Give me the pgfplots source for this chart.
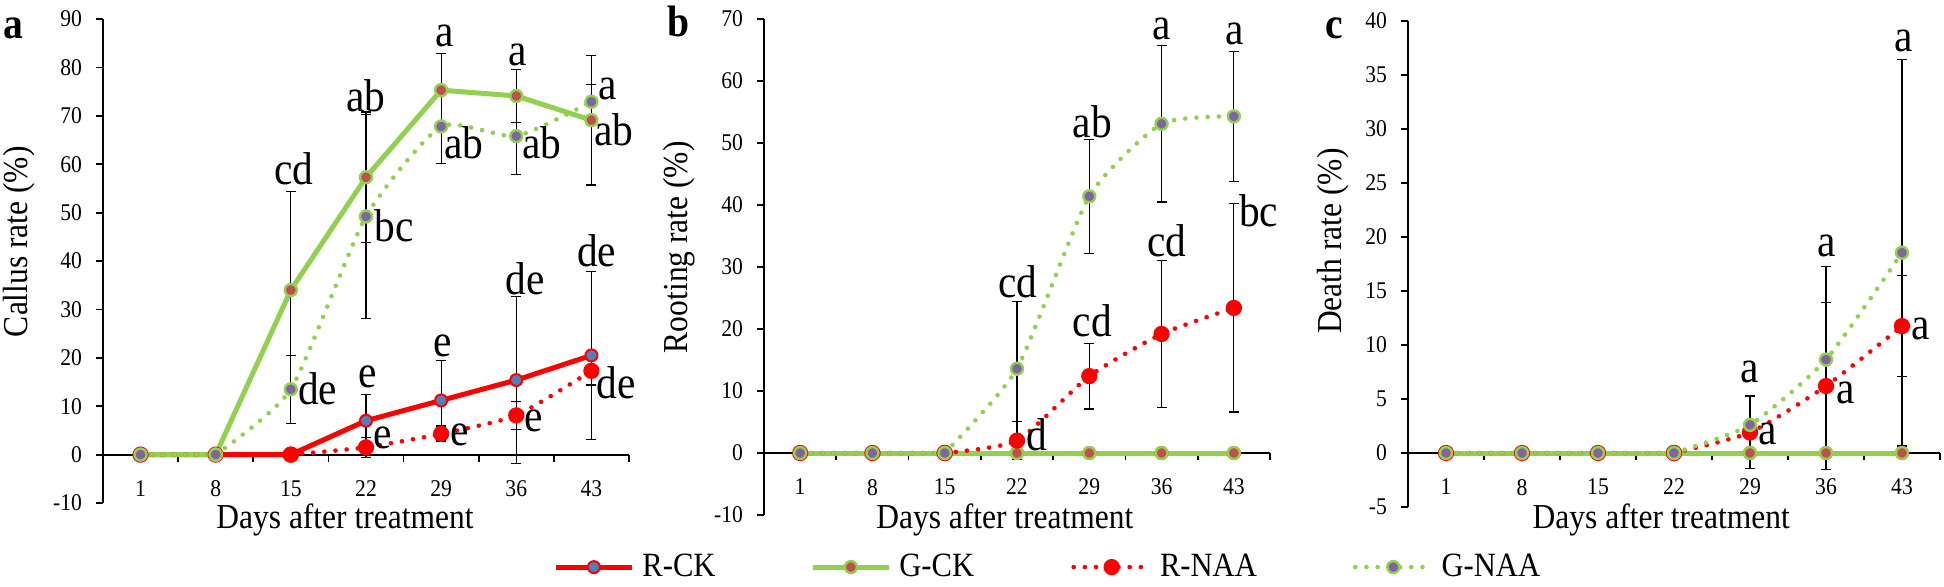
\documentclass[border=0pt]{standalone}
\usepackage{fontspec}
\setmainfont{Liberation Serif}[FakeStretch=0.9]
\usepackage{pgfplots}
\pgfplotsset{compat=1.18}
\definecolor{cgreen}{RGB}{146,208,80}
\definecolor{cblue}{RGB}{79,129,189}
\definecolor{cbrown}{RGB}{192,80,77}
\definecolor{cpurple}{RGB}{128,100,162}
\pgfplotsset{
 panel/.style={scale only axis, anchor=north west, xmin=-2.5, xmax=46.5,
   axis x line=middle, axis y line=left,
   axis line style={-, line width=0.9pt},
   every inner x axis line/.append style={-},
   every outer y axis line/.append style={-},
   xtick={4.5,11.5,...,46.5}, xticklabels={},
   extra x ticks={1,8,15,22,29,36,43}, extra x tick labels={1,8,15,22,29,36,43},
   extra x tick style={major tick length=0pt},
   tick align=outside, major tick length=3.5pt, tick style={black, line width=0.9pt},
   xticklabel style={yshift=-9.5pt}, yticklabel style={xshift=-3.5pt},
   tick label style={font=\fontsize{12}{14}\selectfont},
   label style={font=\fontsize{17.5}{20}\selectfont},
   hide obscured x ticks=false, hide obscured y ticks=false,
   clip=false,
   legend image code/.code={\draw[mark repeat=2,mark phase=2] plot coordinates {(0pt,0pt) (19pt,0pt) (38pt,0pt)};},
 },
 rck/.style={color=red, line width=2.5pt, mark=*, mark size=3pt, mark options={solid, fill=cblue, draw=red, line width=1pt}},
 gck/.style={color=cgreen, line width=2.5pt, mark=*, mark size=3pt, mark options={solid, fill=cbrown, draw=cgreen, line width=1.2pt}},
 rnaa/.style={color=red, line width=2.3pt, line cap=round, dash pattern=on 0pt off 5.6pt, smooth, tension=0.35, mark=*, mark size=2.9pt, mark options={solid, fill=red, draw=red}},
 gnaa/.style={color=cgreen, line width=2.3pt, line cap=round, dash pattern=on 0pt off 5.6pt, smooth, tension=0.35, mark=*, mark size=3pt, mark options={solid, fill=cpurple, draw=cgreen, line width=1.2pt}},
 flat/.style={forget plot, sharp plot},
 ebar/.style={forget plot, only marks, mark=none, black, error bars/.cd, y dir=both, y explicit, error mark=-, error bar style={black, solid, line width=0.6pt}, error mark options={rotate=90, black, solid, mark size=2.5pt, line width=0.6pt}},
}
\tikzset{lab/.style={font=\fontsize{23}{26}\selectfont, inner sep=0pt, anchor=center}}
\begin{document}
\begin{tikzpicture}
\path[use as bounding box] (0,0) rectangle (972pt,-293pt);
% ---------------- panel a
\begin{axis}[panel, at={(51.5pt,-9.5pt)}, width=263pt, height=242pt,
  ymin=-10, ymax=90, ytick={-10,0,10,20,30,40,50,60,70,80,90},
  yticklabels={-10,0,10,20,30,40,50,60,70,80,90},
  xlabel={Days after treatment}, ylabel={Callus rate (\%)},
  xlabel style={at={(axis description cs:0.46,0)}, anchor=base, yshift=-12.5pt},
  ylabel style={at={(axis description cs:-0.16,0.54)}, anchor=center}]
\addplot[ebar] table[x=x,y=y,y error=e] {
x y e
22 7.0 5.4
29 11.2 8.3
36 15.4 17.3
43 20.5 17.4
};
\addplot[ebar] table[x=x,y=y,y error=e] {
x y e
15 34.0 20.4
22 57.3 13.5
29 75.3 7.5
36 74.1 5.5
43 69.1 13.4
};
\addplot[ebar] table[x=x,y=y,y error=e] {
x y e
22 1.5 2.1
29 4.3 1.6
36 8.1 2.9
43 17.3 2.9
};
\addplot[ebar] table[x=x,y=y,y error=e] {
x y e
15 13.5 7.0
22 49.2 21.0
29 67.8 7.7
36 65.8 8.0
43 72.9 3.6
};
\addplot[rck] coordinates {(1,0) (8,0) (15,0) (22,7.0) (29,11.2) (36,15.4) (43,20.5)};
\addplot[gck] coordinates {(1,0) (8,0) (15,34.0) (22,57.3) (29,75.3) (36,74.1) (43,69.1)};
\addplot[rnaa, flat] coordinates {(1,0) (8,0) (15,0)};
\addplot[rnaa] coordinates {(15,0) (22,1.5) (29,4.3) (36,8.1) (43,17.3)};
\addplot[gnaa, flat] coordinates {(1,0) (8,0)};
\addplot[gnaa] coordinates {(8,0) (15,13.5) (22,49.2) (29,67.8) (36,65.8) (43,72.9)};
\node[lab] at (axis cs:15.3,59.1) {cd};
\node[lab] at (axis cs:17.5,13.7) {de};
\node[lab] at (axis cs:22.0,74.1) {ab};
\node[lab] at (axis cs:24.6,47.2) {bc};
\node[lab] at (axis cs:22.2,16.0) {e};
\node[lab] at (axis cs:23.6,3.5) {e};
\node[lab] at (axis cs:29.3,86.6) {a};
\node[lab] at (axis cs:31.1,64.5) {ab};
\node[lab] at (axis cs:29.1,22.5) {e};
\node[lab] at (axis cs:30.7,4.1) {e};
\node[lab] at (axis cs:36.1,82.5) {a};
\node[lab] at (axis cs:38.4,64.5) {ab};
\node[lab] at (axis cs:36.8,36.4) {de};
\node[lab] at (axis cs:37.6,6.9) {e};
\node[lab] at (axis cs:44.5,75.6) {a};
\node[lab] at (axis cs:45.1,67.2) {ab};
\node[lab] at (axis cs:43.5,42.2) {de};
\node[lab] at (axis cs:45.3,14.8) {de};
\end{axis}
% ---------------- panel b
\begin{axis}[panel, at={(382pt,-9.5pt)}, width=253pt, height=248pt,
  ymin=-10, ymax=70, ytick={-10,0,10,20,30,40,50,60,70},
  yticklabels={-10,0,10,20,30,40,50,60,70},
  xlabel={Days after treatment}, ylabel={Rooting rate (\%)},
  xlabel style={at={(axis description cs:0.476,0)}, anchor=base, yshift=-6.5pt},
  ylabel style={at={(axis description cs:-0.168,0.54)}, anchor=center},
  legend columns=4,
  legend style={draw=none, fill=none, inner sep=0pt, at={(axis description cs:-0.417,-0.105)}, anchor=west,
    font=\fontsize{17}{20}\selectfont, nodes={inner sep=1pt},
    /tikz/every odd column/.append style={column sep=3pt},
    /tikz/every even column/.append style={column sep=0pt}}]
\addplot[ebar] table[x=x,y=y,y error=e] {
x y e
22 2.0 3.1
29 12.4 5.3
36 19.2 11.8
43 23.4 16.8
};
\addplot[ebar] table[x=x,y=y,y error=e] {
x y e
22 13.6 10.9
29 41.4 9.2
36 53.1 12.6
43 54.3 10.5
};
\addplot[rck] coordinates {(1,0) (8,0) (15,0) (22,0) (29,0) (36,0) (43,0)};
\addplot[gck] coordinates {(1,0) (8,0) (15,0) (22,0) (29,0) (36,0) (43,0)};
\addplot[rnaa, flat] coordinates {(1,0) (8,0) (15,0)};
\addplot[rnaa] coordinates {(15,0) (22,2.0) (29,12.4) (36,19.2) (43,23.4)};
\addplot[gnaa, flat] coordinates {(1,0) (8,0) (15,0)};
\addplot[gnaa] coordinates {(15,0) (22,13.6) (29,41.4) (36,53.1) (43,54.3)};
\legend{\makebox[83pt][l]{R-CK},\makebox[85pt][l]{G-CK},\makebox[95.5pt][l]{R-NAA},G-NAA}
\node[lab] at (axis cs:22.1,27.7) {cd};
\node[lab] at (axis cs:23.9,2.9) {d};
\node[lab] at (axis cs:29.3,53.4) {ab};
\node[lab] at (axis cs:29.3,21.4) {cd};
\node[lab] at (axis cs:36.0,68.4) {a};
\node[lab] at (axis cs:36.5,34.3) {cd};
\node[lab] at (axis cs:43.1,67.6) {a};
\node[lab] at (axis cs:45.4,39.1) {bc};
\end{axis}
% ---------------- panel c
\begin{axis}[panel, at={(704pt,-10.5pt)}, width=266pt, height=243pt,
  ymin=-5, ymax=40, ytick={-5,0,5,10,15,20,25,30,35,40},
  yticklabels={-5,0,5,10,15,20,25,30,35,40},
  xlabel={Days after treatment}, ylabel={Death rate (\%)},
  xlabel style={at={(axis description cs:0.476,0)}, anchor=base, yshift=-10.5pt},
  ylabel style={at={(axis description cs:-0.14,0.547)}, anchor=center}]
\addplot[ebar] table[x=x,y=y,y error=e] {
x y e
29 1.9 3.3
36 6.2 7.7
43 11.75 4.65
};
\addplot[ebar] table[x=x,y=y,y error=e] {
x y e
29 2.6 2.7
36 8.65 8.6
43 18.55 17.9
};
\addplot[rck] coordinates {(1,0) (8,0) (15,0) (22,0) (29,0) (36,0) (43,0)};
\addplot[gck] coordinates {(1,0) (8,0) (15,0) (22,0) (29,0) (36,0) (43,0)};
\addplot[rnaa, flat] coordinates {(1,0) (8,0) (15,0) (22,0)};
\addplot[rnaa] coordinates {(22,0) (29,1.9) (36,6.2) (43,11.75)};
\addplot[gnaa, flat] coordinates {(1,0) (8,0) (15,0) (22,0)};
\addplot[gnaa] coordinates {(22,0) (29,2.6) (36,8.65) (43,18.55)};
\node[lab] at (axis cs:29.0,7.5) {a};
\node[lab] at (axis cs:30.6,1.8) {a};
\node[lab] at (axis cs:36.1,19.2) {a};
\node[lab] at (axis cs:37.8,5.6) {a};
\node[lab] at (axis cs:43.2,38.2) {a};
\node[lab] at (axis cs:44.7,11.5) {a};
\end{axis}
\node[font=\bfseries\fontsize{22}{24}\selectfont, inner sep=0pt] at (6.5pt,-14pt) {a};
\node[font=\bfseries\fontsize{22}{24}\selectfont, inner sep=0pt] at (339.5pt,-10.5pt) {b};
\node[font=\bfseries\fontsize{22}{24}\selectfont, inner sep=0pt] at (667pt,-14pt) {c};
\end{tikzpicture}
\end{document}
